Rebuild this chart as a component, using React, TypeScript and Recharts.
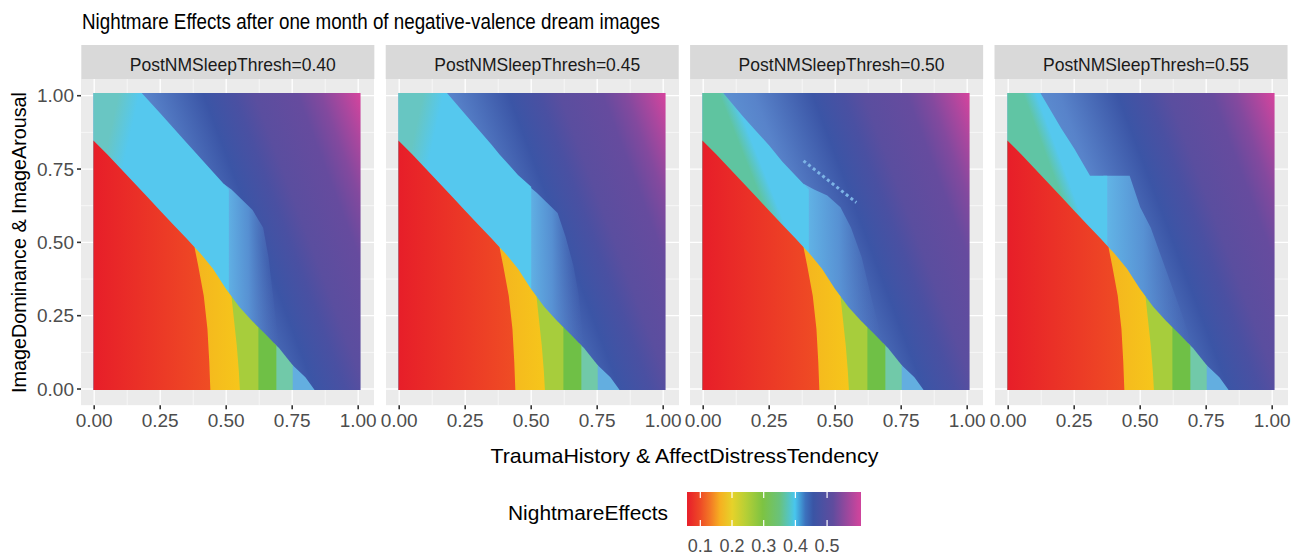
import React from 'react';
import { ComposedChart, Area, Line, XAxis, YAxis, CartesianGrid, ReferenceLine } from 'recharts';

const FONT = '"Liberation Sans", Arial, Helvetica, sans-serif';

// ---------- labels ----------
const titleText = 'Nightmare Effects after one month of negative-valence dream images';
const thresholds = ['0.40', '0.45', '0.50', '0.55'];
const xTitle = 'TraumaHistory & AffectDistressTendency';
const yTitle = 'ImageDominance & ImageArousal';
const legendTitle = 'NightmareEffects';
const axisTicks = [0, 0.25, 0.5, 0.75, 1];
const minorTicks = [0.125, 0.375, 0.625, 0.875];
const legendTicks = [0.1, 0.2, 0.3, 0.4, 0.5];

// heatmap extent (raster cells)
const X0 = -0.003, X1 = 1.009, Y0 = -0.003, Y1 = 1.009;

// ---------- warm regions below the diagonal: [x, upper y] ----------
const redTop: number[][] = [[-0.003, 0.847], [0.05, 0.8], [0.1, 0.752], [0.15, 0.704], [0.2, 0.656], [0.25, 0.608], [0.3, 0.56], [0.35, 0.513], [0.38, 0.483], [0.394, 0.42], [0.415, 0.318], [0.429, 0.205], [0.436, 0.091], [0.44, -0.003]];
const yellowTop: number[][] = [[0.37, 0.493], [0.4, 0.465], [0.45, 0.41], [0.5, 0.34], [0.52, 0.315], [0.54, 0.148], [0.548, 0.06], [0.552, -0.003]];
const green1Top: number[][] = [[0.5, 0.34], [0.55, 0.28], [0.6, 0.23], [0.622, 0.21]];
const green2Top: number[][] = [[0.6, 0.23], [0.65, 0.186], [0.69, 0.148]];
const tealTop: number[][] = [[0.68, 0.157], [0.7, 0.14], [0.752, 0.081]];
const lightBlueTop: number[][] = [[0.74, 0.092], [0.75, 0.083], [0.8, 0.04], [0.835, -0.003]];

// ---------- cyan band (upper edge) per panel ----------
const band040: number[][] = [[-0.003, 1.009], [0.18, 1.009], [0.25, 0.94], [0.3, 0.89], [0.35, 0.84], [0.38, 0.81], [0.45, 0.74], [0.51, 0.68]];
const band045: number[][] = [[-0.003, 1.009], [0.181, 1.009], [0.25, 0.937], [0.3, 0.885], [0.35, 0.833], [0.38, 0.8], [0.45, 0.73], [0.5, 0.69]];
const band050: number[][] = [[-0.003, 1.009], [0.076, 1.009], [0.15, 0.93], [0.2, 0.88], [0.25, 0.83], [0.3, 0.775], [0.4, 0.68]];
const band055: number[][] = [[-0.003, 1.009], [0.122, 1.009], [0.2, 0.89], [0.25, 0.82], [0.31, 0.727], [0.375, 0.727]];

// ---------- light transition zone right of the band ----------
const fuzz040: number[][] = [[0.49, 0.7], [0.52, 0.68], [0.56, 0.645], [0.6, 0.61], [0.64, 0.55], [0.66, 0.45], [0.68, 0.3], [0.7, 0.14]];
const fuzz045: number[][] = [[0.48, 0.7], [0.52, 0.67], [0.56, 0.635], [0.6, 0.6], [0.63, 0.52], [0.66, 0.42], [0.68, 0.32], [0.7, 0.14]];
const fuzz050: number[][] = [[0.38, 0.7], [0.42, 0.68], [0.47, 0.66], [0.52, 0.62], [0.56, 0.55], [0.6, 0.45], [0.64, 0.3], [0.68, 0.16]];
const fuzz055: number[][] = [[0.36, 0.727], [0.46, 0.727], [0.5, 0.62], [0.54, 0.55], [0.58, 0.45], [0.62, 0.35], [0.66, 0.25], [0.7, 0.14]];

// speckled diagonal (panel 0.50)
const speckle050: number[][] = [[0.38, 0.778], [0.58, 0.636]];

const bands = [band040, band045, band050, band055];
const fuzzes = [fuzz040, fuzz045, fuzz050, fuzz055];
const tealColors = ['#69C6C3', '#67C6C2', '#5FC4A0', '#60C5A4'];

// ---------- layout ----------
const PLOT_LEFT0 = 81.3;
const PANEL_STEP = 304.4;
const PLOT_W = 293.04;
const PLOT_TOP = 79;
const PLOT_H = 326.15;
const YAXIS_W = 62;
const XAXIS_H = 45;
const RIGHT_PAD = 20;

const toRows = (pts: number[][]) => pts.map(([x, top]) => ({ x, r: [Y0, top] }));
const bgRows = [{ x: X0, r: [Y0, Y1] }, { x: X1, r: [Y0, Y1] }];

const tickStyle = { fontSize: 19, fill: '#4D4D4D', fontFamily: FONT };

function Panel({ k }: { k: number }) {
  const left = PLOT_LEFT0 + k * PANEL_STEP - YAXIS_W;
  const areaProps = {
    dataKey: 'r',
    type: 'linear' as const,
    stroke: 'none',
    fillOpacity: 1,
    isAnimationActive: false,
    dot: false,
    activeDot: false,
  };
  return (
    <div style={{ position: 'absolute', left, top: PLOT_TOP }}>
      <ComposedChart
        width={YAXIS_W + PLOT_W + RIGHT_PAD}
        height={PLOT_H + XAXIS_H}
        margin={{ top: 0, right: RIGHT_PAD, bottom: 0, left: k === 0 ? 0 : YAXIS_W }}
      >
        <CartesianGrid fill="#EBEBEB" stroke="#FFFFFF" strokeWidth={0.6} horizontalValues={minorTicks} verticalValues={minorTicks} />
        <CartesianGrid stroke="#FFFFFF" strokeWidth={1.3} horizontalValues={axisTicks} verticalValues={axisTicks} />
        <XAxis
          type="number"
          dataKey="x"
          domain={[-0.05, 1.06]}
          allowDataOverflow
          ticks={axisTicks}
          interval={0}
          height={XAXIS_H}
          axisLine={false}
          tickLine={{ stroke: '#333333', strokeWidth: 1.6 }}
          tickSize={4}
          tickMargin={4}
          tick={tickStyle}
          tickFormatter={(v: number) => v.toFixed(2)}
        />
        <YAxis
          type="number"
          domain={[-0.055, 1.057]}
          allowDataOverflow
          ticks={axisTicks}
          interval={0}
          hide={k !== 0}
          width={YAXIS_W}
          axisLine={false}
          tickLine={{ stroke: '#333333', strokeWidth: 1.6 }}
          tickSize={4}
          tickMargin={3}
          tick={tickStyle}
          tickFormatter={(v: number) => v.toFixed(2)}
        />
        <Area {...areaProps} data={bgRows} fill="url(#bgGrad)" />
        <Area {...areaProps} data={toRows(fuzzes[k])} fill="url(#fuzzGrad)" />
        <Area {...areaProps} data={toRows(bands[k])} fill={`url(#bandGrad${k})`} />
        <Area {...areaProps} data={toRows(lightBlueTop)} fill="#63AEE0" />
        <Area {...areaProps} data={toRows(tealTop)} fill="#71C9A9" />
        <Area {...areaProps} data={toRows(green2Top)} fill="#6FC046" />
        <Area {...areaProps} data={toRows(green1Top)} fill="#A7CD3C" />
        <Area {...areaProps} data={toRows(yellowTop)} fill="url(#yellowGrad)" />
        <Area {...areaProps} data={toRows(redTop)} fill="url(#redGrad)" />
        {k === 2 && (
          <Line
            data={speckle050.map(([x, y]) => ({ x, y }))}
            dataKey="y"
            type="linear"
            stroke="#7DB4E6"
            strokeWidth={3}
            strokeDasharray="3 3"
            dot={false}
            activeDot={false}
            isAnimationActive={false}
          />
        )}
      </ComposedChart>
    </div>
  );
}

function Gradients() {
  const bandGeo = [
    { x1: 0, y1: 0, x2: 0.5, y2: 0.25, s: [0.3, 0.55] },
    { x1: 0, y1: 0, x2: 0.5, y2: 0.25, s: [0.3, 0.55] },
    { x1: 0.091, y1: 0.157, x2: 0.359, y2: -0.139, s: [0.4, 0.62] },
    { x1: 0.091, y1: 0.157, x2: 0.359, y2: -0.139, s: [0.4, 0.62] },
  ];
  return (
    <svg width={0} height={0} style={{ position: 'absolute' }}>
      <defs>
        <linearGradient id="bgGrad" x1="0.205" y1="0.674" x2="1.121" y2="0.29">
          <stop offset="0" stopColor="#62A2DC" />
          <stop offset="0.25" stopColor="#5883CA" />
          <stop offset="0.453" stopColor="#3B55A6" />
          <stop offset="0.56" stopColor="#4A50A2" />
          <stop offset="0.63" stopColor="#5A4E9F" />
          <stop offset="0.78" stopColor="#664B9E" />
          <stop offset="0.86" stopColor="#83499E" />
          <stop offset="0.93" stopColor="#AA479E" />
          <stop offset="1" stopColor="#D6449D" />
        </linearGradient>
        <linearGradient id="fuzzGrad" x1="0" y1="0" x2="1" y2="0">
          <stop offset="0" stopColor="#62B8E8" stopOpacity={1} />
          <stop offset="0.45" stopColor="#5A98D8" stopOpacity={0.85} />
          <stop offset="1" stopColor="#4D70BC" stopOpacity={0} />
        </linearGradient>
        {bandGeo.map((g, i) => (
          <linearGradient key={i} id={`bandGrad${i}`} x1={g.x1} y1={g.y1} x2={g.x2} y2={g.y2}>
            <stop offset="0" stopColor={tealColors[i]} />
            <stop offset={g.s[0]} stopColor={tealColors[i]} />
            <stop offset={g.s[1]} stopColor="#55C8EE" />
            <stop offset="1" stopColor="#55C8EE" />
          </linearGradient>
        ))}
        <linearGradient id="redGrad" x1="0" y1="0" x2="1" y2="0">
          <stop offset="0" stopColor="#E71E29" />
          <stop offset="1" stopColor="#EF4D24" />
        </linearGradient>
        <linearGradient id="yellowGrad" x1="0" y1="0" x2="1" y2="0">
          <stop offset="0" stopColor="#F4B41F" />
          <stop offset="1" stopColor="#F6C61B" />
        </linearGradient>
        <linearGradient id="cbGrad" x1="0" y1="0" x2="1" y2="0">
          <stop offset="0.01" stopColor="#E8232A" />
          <stop offset="0.076" stopColor="#EE4A26" />
          <stop offset="0.135" stopColor="#F37A25" />
          <stop offset="0.19" stopColor="#F6B021" />
          <stop offset="0.26" stopColor="#E6D22A" />
          <stop offset="0.34" stopColor="#B5CF36" />
          <stop offset="0.435" stopColor="#7DC342" />
          <stop offset="0.53" stopColor="#6AC27A" />
          <stop offset="0.62" stopColor="#48C6EE" />
          <stop offset="0.68" stopColor="#3C72BE" />
          <stop offset="0.725" stopColor="#3A55A5" />
          <stop offset="0.84" stopColor="#604C9E" />
          <stop offset="0.99" stopColor="#CD449C" />
        </linearGradient>
      </defs>
    </svg>
  );
}

function Texts() {
  return (
    <svg width={1306} height={555} style={{ position: 'absolute', left: 0, top: 0 }}>
      <text x={82} y={29.3} fontSize={21.5} fontFamily={FONT} fill="#000" textLength={578} lengthAdjust="spacingAndGlyphs">{titleText}</text>
      {thresholds.map((t, k) => {
        const x = PLOT_LEFT0 + k * PANEL_STEP;
        return (
          <g key={t}>
            <rect x={x} y={45} width={PLOT_W} height={34} fill="#D9D9D9" />
            <text x={x + PLOT_W / 2 + 5} y={70.5} fontSize={18.5} fontFamily={FONT} fill="#1A1A1A" textAnchor="middle" textLength={206} lengthAdjust="spacingAndGlyphs">
              {`PostNMSleepThresh=${t}`}
            </text>
          </g>
        );
      })}
      <text x={684.4} y={463} fontSize={21} fontFamily={FONT} fill="#000" textAnchor="middle" textLength={388} lengthAdjust="spacingAndGlyphs">{xTitle}</text>
      <text transform="translate(25.5,242.5) rotate(-90)" x={0} y={0} fontSize={20} fontFamily={FONT} fill="#000" textAnchor="middle" textLength={301} lengthAdjust="spacingAndGlyphs">{yTitle}</text>
      <text x={508} y={520} fontSize={20} fontFamily={FONT} fill="#000" textLength={160} lengthAdjust="spacingAndGlyphs">{legendTitle}</text>
    </svg>
  );
}

function ColorBar() {
  const rows = [{ x: 0.058, r: [0, 1] }, { x: 0.607, r: [0, 1] }];
  return (
    <div style={{ position: 'absolute', left: 686.7, top: 491.7 }}>
      <ComposedChart width={174} height={64} margin={{ top: 0, right: 0, bottom: 0, left: 0 }}>
        <XAxis
          type="number"
          dataKey="x"
          domain={[0.058, 0.607]}
          allowDataOverflow
          ticks={legendTicks}
          interval={0}
          axisLine={false}
          tickLine={false}
          tickSize={0}
          tickMargin={13}
          height={30}
          tick={{ fontSize: 18, fill: '#4D4D4D', fontFamily: FONT }}
          tickFormatter={(v: number) => v.toFixed(1)}
        />
        <YAxis type="number" domain={[0, 1]} hide allowDataOverflow />
        <Area data={rows} dataKey="r" type="linear" stroke="none" fill="url(#cbGrad)" fillOpacity={1} isAnimationActive={false} dot={false} activeDot={false} />
        {legendTicks.map((v) => (
          <ReferenceLine key={`b${v}`} segment={[{ x: v, y: 0 }, { x: v, y: 0.18 }]} stroke="#FFFFFF" strokeWidth={1.2} />
        ))}
        {legendTicks.map((v) => (
          <ReferenceLine key={`t${v}`} segment={[{ x: v, y: 0.82 }, { x: v, y: 1 }]} stroke="#FFFFFF" strokeWidth={1.2} />
        ))}
      </ComposedChart>
    </div>
  );
}

export default function App() {
  return (
    <div style={{ position: 'absolute', left: 0, top: 0, width: 1306, height: 555, background: '#FFFFFF', fontFamily: FONT }}>
      <Gradients />
      <Texts />
      {thresholds.map((t, k) => (
        <Panel key={t} k={k} />
      ))}
      <ColorBar />
    </div>
  );
}
